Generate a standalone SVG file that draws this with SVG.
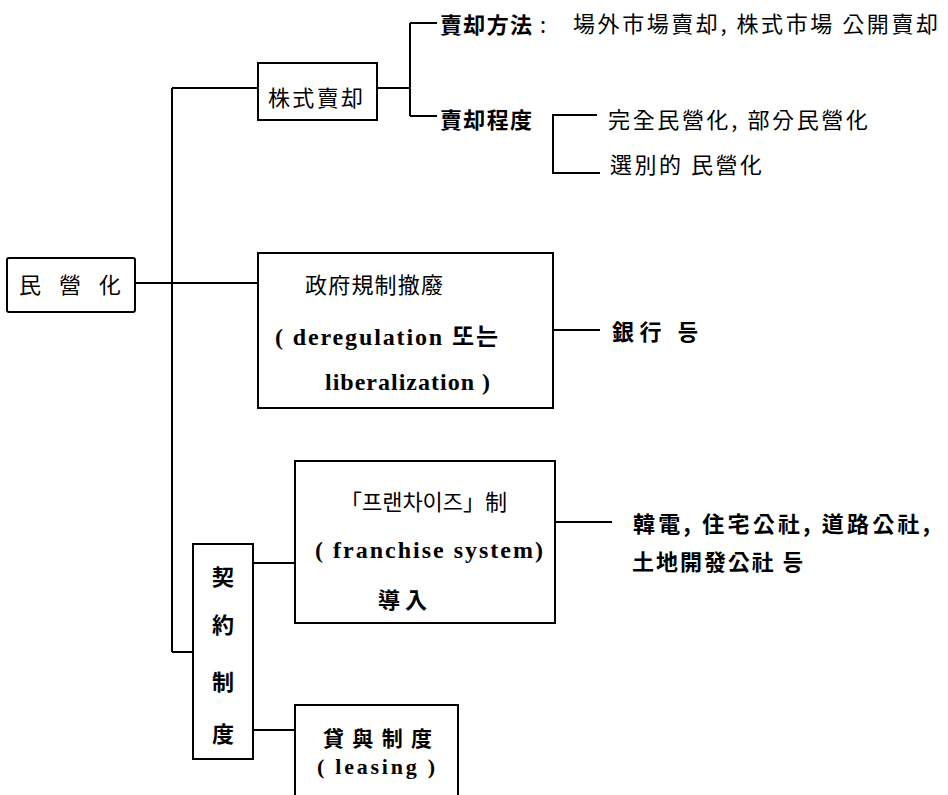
<svg xmlns="http://www.w3.org/2000/svg" width="948" height="795" viewBox="0 0 948 795">
<style>
.box{fill:#fff;stroke:#000;stroke-width:2}
.ln{stroke:#000;stroke-width:2;fill:none}
.cj{font-family:"Noto Sans CJK KR","Noto Sans CJK TC",sans-serif;font-size:22px;fill:#000;dominant-baseline:central}
.cb{font-weight:bold}
.lt{font-family:"Liberation Serif","Noto Sans CJK KR",serif;font-size:24px;font-weight:bold;fill:#000;dominant-baseline:central}
</style>
<rect width="948" height="795" fill="#fff"/>
<g id="connectors">
<path class="ln" d="M135,283H258M172,88V652M172,88H258M172,652H193"/>
<path class="ln" d="M377,88H410M410,23V116M410,23H437M410,116H437"/>
<path class="ln" d="M597,115H553V173H600"/>
<path class="ln" d="M553,330H600"/>
<path class="ln" d="M253,563H295M253,730H295"/>
<path class="ln" d="M555,522H612"/>
</g>
<g id="n-minyoung">
<rect class="box" x="7" y="258" width="128" height="54" rx="2"/>
<text class="cj" x="30" y="283" text-anchor="middle">民</text>
<text class="cj" x="70" y="283" text-anchor="middle">營</text>
<text class="cj" x="110" y="283" text-anchor="middle">化</text>
</g>
<g id="n-stock">
<rect class="box" x="258" y="63" width="119" height="57"/>
<text class="cj" x="268" y="96" textLength="95" lengthAdjust="spacing">株式賣却</text>
</g>
<g id="n-method">
<text class="cj cb" x="440" y="23" textLength="92" lengthAdjust="spacing">賣却方法</text>
<text class="cj" x="540" y="23">:</text>
<text class="cj" x="573" y="22" textLength="365" lengthAdjust="spacing">場外市場賣却, 株式市場 公開賣却</text>
</g>
<g id="n-degree">
<text class="cj cb" x="440" y="118" textLength="92" lengthAdjust="spacing">賣却程度</text>
</g>
<g id="n-full">
<text class="cj" x="608" y="118" textLength="260" lengthAdjust="spacing">完全民營化, 部分民營化</text>
</g>
<g id="n-select">
<text class="cj" x="610" y="163" textLength="152" lengthAdjust="spacing">選別的 民營化</text>
</g>
<g id="n-dereg">
<rect class="box" x="258" y="253" width="295" height="155"/>
<text class="cj" x="305" y="283" textLength="138" lengthAdjust="spacing">政府規制撤廢</text>
<text class="lt" x="275" y="337" textLength="223" lengthAdjust="spacing">( deregulation  또는</text>
<text class="lt" x="325" y="382" textLength="165" lengthAdjust="spacing">liberalization )</text>
</g>
<g id="n-bank">
<text class="cj cb" x="612" y="330" textLength="86" lengthAdjust="spacing">銀行 등</text>
</g>
<g id="n-contract">
<rect class="box" x="193" y="544" width="60" height="215"/>
<text class="cj cb" x="223" y="575" text-anchor="middle">契</text>
<text class="cj cb" x="223" y="623" text-anchor="middle">約</text>
<text class="cj cb" x="223" y="680" text-anchor="middle">制</text>
<text class="cj cb" x="223" y="732" text-anchor="middle">度</text>
</g>
<g id="n-franchise">
<rect class="box" x="295" y="461" width="260" height="162"/>
<text class="cj" x="340" y="500" textLength="167" lengthAdjust="spacing">「프랜차이즈」制</text>
<text class="lt" x="315" y="550" textLength="228" lengthAdjust="spacing">( franchise  system)</text>
<text class="cj cb" x="378" y="598" textLength="49" lengthAdjust="spacing">導入</text>
</g>
<g id="n-public">
<text class="cj cb" x="633" y="522" textLength="297" lengthAdjust="spacing">韓電, 住宅公社, 道路公社,</text>
<text class="cj cb" x="632" y="560" textLength="171" lengthAdjust="spacing">土地開發公社 등</text>
</g>
<g id="n-leasing">
<rect class="box" x="295" y="705" width="163" height="100"/>
<text class="cj cb" x="323" y="737" style="font-size:21px" textLength="109" lengthAdjust="spacing">貸與制度</text>
<text class="lt" x="317" y="766" style="font-size:22px" textLength="118" lengthAdjust="spacing">( leasing )</text>
</g>
</svg>
